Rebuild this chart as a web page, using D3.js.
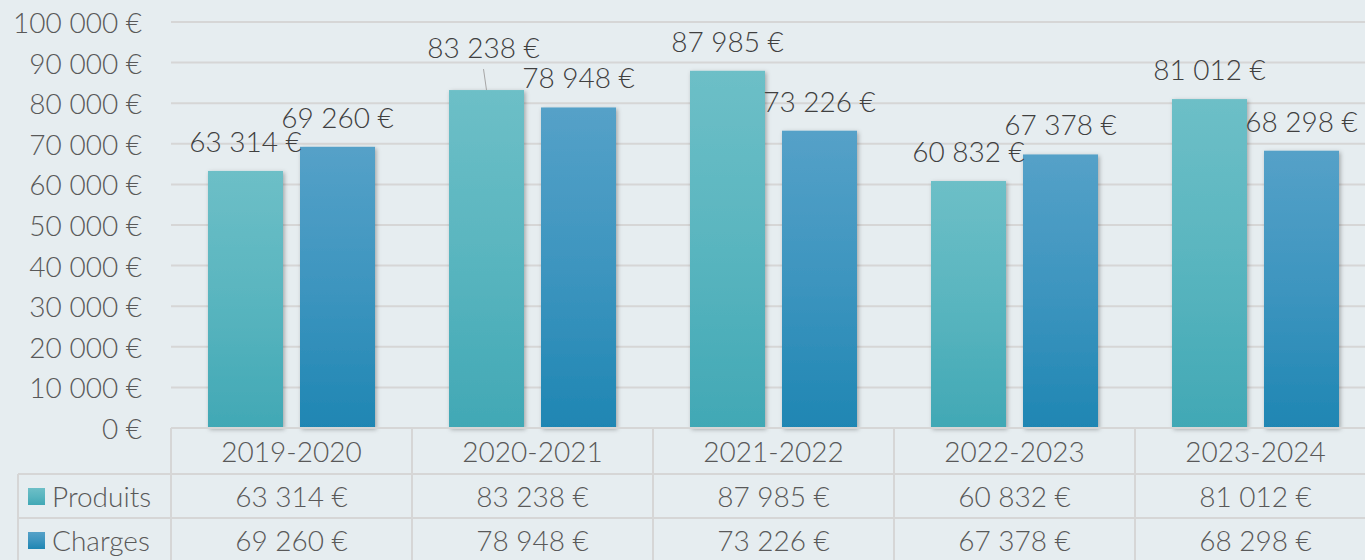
<!DOCTYPE html>
<html>
<head>
<meta charset="utf-8">
<script src="https://cdn.jsdelivr.net/npm/d3@7"></script>
<style>
  html, body { margin: 0; padding: 0; background: #e6edf0; }
  svg { display: block; font-family: Lato, "Noto Sans", sans-serif; font-weight: 300; }
</style>
</head>
<body>
<svg id="chart" width="1365" height="560"></svg>
<script>
// data
var categories = ["2019-2020", "2020-2021", "2021-2022", "2022-2023", "2023-2024"];
var seriesNames = ["Produits", "Charges"];
var produits = [63314, 83238, 87985, 60832, 81012];
var charges  = [69260, 78948, 73226, 67378, 68298];
var yTicks = [0, 10000, 20000, 30000, 40000, 50000, 60000, 70000, 80000, 90000, 100000];

var seriesValues = [produits, charges];

var svg = d3.select("#chart"),
    margin = {top: 22, left: 171, bottom: 428},
    catStep = 241;

var fmt = function(v) {
  return d3.format(",")(v).replace(/,/g, " ") + " €";
};

var x0 = d3.scaleBand()
    .domain(categories)
    .range([margin.left, margin.left + catStep * categories.length])
    .paddingInner(0).paddingOuter(0);

var x1 = d3.scaleBand()
    .domain(seriesNames)
    .range([0, x0.bandwidth()])
    .paddingInner(17 / 92)
    .paddingOuter(37 / 92);

var y = d3.scaleLinear().domain([0, 100000]).range([margin.bottom, margin.top]);

// gradients + shadow
var defs = svg.append("defs");
var grads = [["gProd", "#6dbfc7", "#41a8b5"], ["gChar", "#55a1c8", "#1f86b3"]];
grads.forEach(function(g) {
  var lg = defs.append("linearGradient").attr("id", g[0])
      .attr("x1", 0).attr("y1", 0).attr("x2", 0).attr("y2", 1);
  lg.append("stop").attr("offset", "0%").attr("stop-color", g[1]);
  lg.append("stop").attr("offset", "50%").attr("stop-color", d3.interpolateRgb(g[1], g[2])(0.45));
  lg.append("stop").attr("offset", "100%").attr("stop-color", g[2]);
});
var f = defs.append("filter").attr("id", "shadow")
    .attr("x", "-20%").attr("y", "-20%").attr("width", "140%").attr("height", "140%");
f.append("feDropShadow").attr("dx", 1.5).attr("dy", 1.5).attr("stdDeviation", 2)
    .attr("flood-color", "#000").attr("flood-opacity", 0.3);

var gridColor = "#d6d6d6";

// gridlines
svg.append("g").selectAll("line")
  .data(yTicks.filter(function(t) { return t > 0; }))
  .enter().append("line")
    .attr("x1", margin.left).attr("x2", 1365)
    .attr("y1", function(d) { return y(d); })
    .attr("y2", function(d) { return y(d); })
    .attr("stroke", gridColor).attr("stroke-width", 2);

// y labels
svg.append("g").selectAll("text")
  .data(yTicks)
  .enter().append("text")
    .attr("x", 142)
    .attr("y", function(d) { return y(d); })
    .attr("dominant-baseline", "central")
    .attr("text-anchor", "end")
    .attr("fill", "#595959")
    .style("font-size", "28px")
    .text(fmt);

// bars
var colors = ["url(#gProd)", "url(#gChar)"];
var groups = svg.append("g").selectAll("g")
  .data(categories)
  .enter().append("g")
    .attr("transform", function(d) { return "translate(" + x0(d) + ",0)"; });

groups.selectAll("rect")
  .data(function(d, i) {
    return seriesNames.map(function(s, k) { return {s: s, k: k, v: seriesValues[k][i]}; });
  })
  .enter().append("rect")
    .attr("x", function(d) { return x1(d.s); })
    .attr("y", function(d) { return y(d.v); })
    .attr("width", x1.bandwidth())
    .attr("height", function(d) { return y(0) - y(d.v); })
    .attr("fill", function(d) { return colors[d.k]; })
    .attr("filter", "url(#shadow)");

// data labels
groups.each(function(c, i) {
  var g = d3.select(this);
  seriesNames.forEach(function(s, k) {
    var v = seriesValues[k][i];
    var cx = x1(s) + x1.bandwidth() / 2;
    var ly = y(v) - 30;
    // moved label with leader line (2020-2021 Produits)
    if (i === 1 && k === 0) {
      ly = y(v) - 43;
      g.append("line")
        .attr("x1", cx - 3).attr("y1", ly + 22)
        .attr("x2", cx).attr("y2", y(v))
        .attr("stroke", "#a6a6a6").attr("stroke-width", 1);
      cx = cx - 3;
    }
    g.append("text")
      .attr("x", cx).attr("y", ly)
      .attr("text-anchor", "middle")
      .attr("dominant-baseline", "central")
      .attr("fill", "#404040")
      .style("font-size", "28px")
      .text(fmt(v));
  });
});

// data table
var tbl = svg.append("g");
var rowY = [428, 474, 518, 560];
var right = margin.left + catStep * categories.length;

tbl.append("line").attr("x1", margin.left).attr("x2", right)
  .attr("y1", rowY[0]).attr("y2", rowY[0]);
tbl.append("line").attr("x1", 18).attr("x2", right)
  .attr("y1", rowY[1]).attr("y2", rowY[1]);
tbl.append("line").attr("x1", 18).attr("x2", right)
  .attr("y1", rowY[2]).attr("y2", rowY[2]);
tbl.append("line").attr("x1", 18).attr("x2", 18)
  .attr("y1", rowY[1]).attr("y2", rowY[3]);
tbl.selectAll(".vline")
  .data(categories.concat(["end"]))
  .enter().append("line")
    .attr("class", "vline")
    .attr("x1", function(d, i) { return margin.left + catStep * i; })
    .attr("x2", function(d, i) { return margin.left + catStep * i; })
    .attr("y1", rowY[0]).attr("y2", rowY[3]);
tbl.selectAll("line").attr("stroke", gridColor).attr("stroke-width", 2);

// header
tbl.selectAll(".cat")
  .data(categories)
  .enter().append("text")
    .attr("x", function(d) { return x0(d) + x0.bandwidth() / 2; })
    .attr("y", (rowY[0] + rowY[1]) / 2)
    .attr("text-anchor", "middle")
    .attr("dominant-baseline", "central")
    .attr("fill", "#595959")
    .style("font-size", "28px")
    .text(function(d) { return d; });

// rows
seriesNames.forEach(function(s, k) {
  var cy = (rowY[k + 1] + rowY[k + 2]) / 2;
  if (k === 1) cy = rowY[2] + 22;
  tbl.append("rect")
    .attr("x", 28).attr("y", cy - 8)
    .attr("width", 17).attr("height", 17)
    .attr("fill", colors[k]);
  tbl.append("text")
    .attr("x", 52).attr("y", cy)
    .attr("dominant-baseline", "central")
    .attr("fill", "#595959")
    .style("font-size", "28px")
    .text(s);
  tbl.selectAll(".v" + k)
    .data(seriesValues[k])
    .enter().append("text")
      .attr("x", function(d, i) { return x0(categories[i]) + x0.bandwidth() / 2; })
      .attr("y", cy)
      .attr("text-anchor", "middle")
      .attr("dominant-baseline", "central")
      .attr("fill", "#595959")
      .style("font-size", "28px")
      .text(fmt);
});
</script>
</body>
</html>
